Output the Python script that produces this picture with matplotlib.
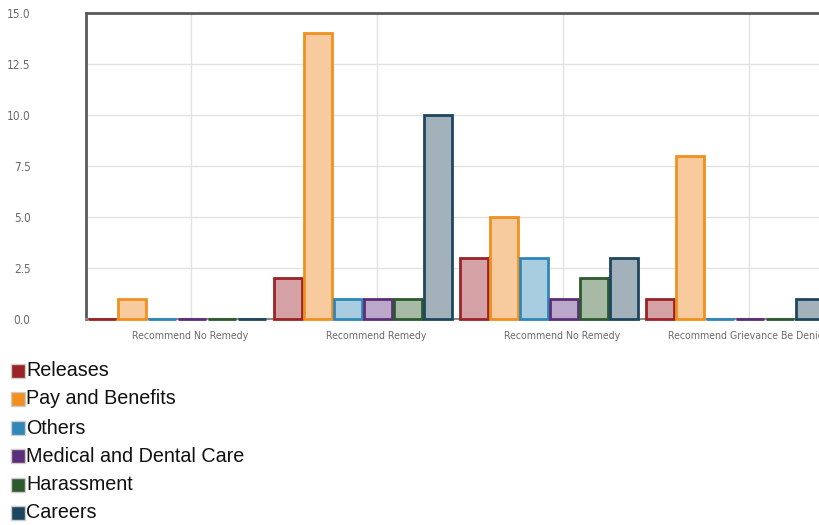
import matplotlib
matplotlib.use("Agg")
import matplotlib.pyplot as plt
from matplotlib.patches import Rectangle

categories = ["Recommend No Remedy", "Recommend Remedy", "Recommend No Remedy",
              "Recommend Grievance Be Denied"]
series = ["Releases", "Pay and Benefits", "Others", "Medical and Dental Care",
          "Harassment", "Careers"]
releases = [0, 2, 3, 1]
pay_benefits = [1, 14, 5, 8]
others = [0, 1, 3, 0]
medical = [0, 1, 1, 0]
harassment = [0, 1, 2, 0]
careers = [0, 10, 3, 1]
values = [releases, pay_benefits, others, medical, harassment, careers]

edge_colors = ["#9b2226", "#f0901f", "#2f86b8", "#5b2e78", "#2d5a2d", "#1d4660"]
fill_colors = ["#d4a2a4", "#f7cb9e", "#a9cde0", "#bba7c9", "#a7baa6", "#a3b1bb"]

fig = plt.figure(figsize=(8.19, 5.25), dpi=100)
ax = fig.add_axes([0.1050, 0.3924, 0.9084, 0.5829])

bar_step = 30 / 186
bar_w = 28 / 186
for j, vals in enumerate(values):
    xs = [i - 0.5 + 0.01 + j * bar_step for i in range(len(categories))]
    ax.bar(xs, vals, width=bar_w, align="edge", color=fill_colors[j],
           edgecolor=edge_colors[j], linewidth=2, zorder=3, clip_on=False)

ax.set_xlim(-0.5, 3.5)
ax.set_ylim(0, 15)
ax.set_yticks([0, 2.5, 5, 7.5, 10, 12.5, 15])
ax.set_yticklabels(["0.0", "2.5", "5.0", "7.5", "10.0", "12.5", "15.0"],
                   family="DejaVu Sans", stretch="condensed", fontsize=8.5,
                   color="#6a6a6a")
tick_pos = [i + 0.062 for i in range(len(categories))]
ax.set_xticks(tick_pos)
ax.set_xticklabels(categories, family="DejaVu Sans", stretch="condensed",
                   fontsize=7.6, color="#6a6a6a")
ax.tick_params(axis="y", length=0, pad=40)
ax.tick_params(axis="x", length=0, pad=9)
ax.grid(True, color="#e2e2e2", linewidth=1, zorder=0)
ax.set_axisbelow(True)

for side in ["top", "left"]:
    ax.spines[side].set_color("#5a5a5a")
    ax.spines[side].set_linewidth(2)
ax.spines["bottom"].set_color("#8a8a8a")
ax.spines["bottom"].set_linewidth(1.5)
ax.spines["right"].set_visible(False)

# legend drawn by hand, stacked under the chart
row_y = [371, 399, 428, 456, 485, 513]
for name, col, y in zip(series, edge_colors, row_y):
    fig.add_artist(Rectangle((11 / 819, (525 - y - 7) / 525), 14 / 819, 14 / 525,
                             transform=fig.transFigure, facecolor=col,
                             edgecolor="#cccccc", linewidth=1))
    fig.text(26 / 819, (525 - y) / 525, name, fontsize=14.2,
             family=["Liberation Sans", "DejaVu Sans"], color="#111111", va="center")

fig.savefig("out.png", dpi=100)
